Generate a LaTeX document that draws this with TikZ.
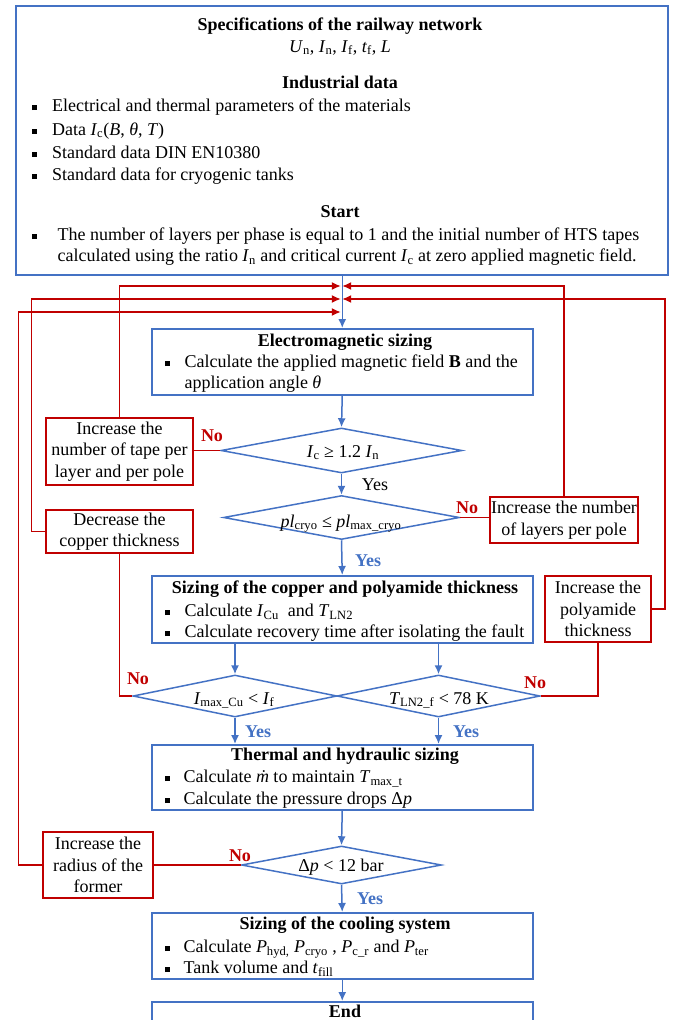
\documentclass[tikz,border=0pt]{standalone}
\usepackage{fontspec}
\setmainfont{Liberation Serif}
\usepackage{tikz}
\usetikzlibrary{shapes.geometric, arrows.meta}

\definecolor{flowblue}{RGB}{68,114,196}
\definecolor{flowred}{RGB}{192,0,0}

\newcommand{\flowfont}{\fontsize{18}{21.5}\selectfont}
\newcommand{\sqbul}[1]{\makebox[#1][l]{\rule[1.5pt]{5pt}{5pt}}}
\newcommand{\vsub}[2]{\textit{#1}\textsubscript{#2}}

\begin{document}
\begin{tikzpicture}[x=1pt, y=-1pt, >={Latex[length=9pt, width=8pt]}, font=\flowfont,
    every node/.append style={inner ysep=1pt},
    bluebox/.style={draw=flowblue, line width=1.5pt, rectangle, inner sep=0pt, anchor=north west},
    redbox/.style={draw=flowred, line width=1.5pt, rectangle, inner sep=0pt, align=center},
    decision/.style={draw=flowblue, line width=1.5pt, diamond, inner sep=0pt},
    flowline/.style={->, flowblue, line width=1.5pt},
    backline/.style={flowred, line width=1.5pt},
    yeslabel/.style={anchor=base, text=flowblue, font=\flowfont\bfseries},
    nolabel/.style={anchor=base, text=flowred, font=\flowfont\bfseries}]
    \useasboundingbox (0,0) rectangle (680,1020);
    % Draw input data box
    \node [bluebox, minimum width=652, minimum height=269] (specs) at (15,5) {};
    \node [anchor=base] (spectitle) at (340,30) {\bfseries Specifications of the railway network};
    \node [anchor=base] (specvars) at (340,52) {\vsub{U}{n}, \vsub{I}{n}, \vsub{I}{f}, \vsub{t}{f}, \textit{L}};
    \node [anchor=base] (indtitle) at (340,88.5) {\bfseries Industrial data};
    \node [anchor=base west] (ind1) at (28,111.5) {\sqbul{20.5pt}Electrical and thermal parameters of the materials};
    \node [anchor=base west] (ind2) at (28,135) {\sqbul{20.5pt}Data \vsub{I}{c}(\textit{B}, \textit{θ}, \textit{T})};
    \node [anchor=base west] (ind3) at (28,158) {\sqbul{20.5pt}Standard data DIN EN10380};
    \node [anchor=base west] (ind4) at (28,180.5) {\sqbul{20.5pt}Standard data for cryogenic tanks};
    \node [anchor=base] (starttitle) at (340,217.5) {\bfseries Start};
    \node [anchor=base west] (start1) at (28,240.5) {\sqbul{26pt}The number of layers per phase is equal to 1 and the initial number of HTS tapes};
    \node [anchor=base west] (start2) at (54,261.5) {calculated using the ratio \vsub{I}{n} and critical current \vsub{I}{c} at zero applied magnetic field.};
    % Draw sizing boxes
    \node [bluebox, minimum width=381, minimum height=66] (em) at (151,328) {};
    \node [anchor=base] (emtitle) at (345,346) {\bfseries Electromagnetic sizing};
    \node [anchor=base west] (em1) at (161,367.5) {\sqbul{20pt}Calculate the applied magnetic field \textbf{B} and the};
    \node [anchor=base west] (em2) at (181,388.5) {application angle \textit{θ}};
    \node [bluebox, minimum width=381, minimum height=67] (sizing) at (151,575) {};
    \node [anchor=base] (sizetitle) at (345,593.5) {\bfseries Sizing of the copper and polyamide thickness};
    \node [anchor=base west] (size1) at (161,616.5) {\sqbul{20pt}Calculate \vsub{I}{Cu} \ and \vsub{T}{LN2}};
    \node [anchor=base west] (size2) at (161,637.5) {\sqbul{20pt}Calculate recovery time after isolating the fault};
    \node [bluebox, minimum width=381, minimum height=65] (thermal) at (151,744) {};
    \node [anchor=base] (thermtitle) at (345,760.5) {\bfseries Thermal and hydraulic sizing};
    \node [anchor=base west] (therm1) at (161,782.5) {\sqbul{19pt}Calculate \textit{ṁ} to maintain \vsub{T}{max\_t}};
    \node [anchor=base west] (therm2) at (161,804.5) {\sqbul{19pt}Calculate the pressure drops Δ\textit{p}};
    \node [bluebox, minimum width=381, minimum height=66] (cooling) at (151,912) {};
    \node [anchor=base] (cooltitle) at (345,929.5) {\bfseries Sizing of the cooling system};
    \node [anchor=base west] (cool1) at (161,952.5) {\sqbul{19pt}Calculate \vsub{P}{hyd,} \vsub{P}{cryo} , \vsub{P}{c\_r} and \vsub{P}{ter}};
    \node [anchor=base west] (cool2) at (161,973.5) {\sqbul{19pt}Tank volume and \vsub{t}{fill}};
    \node [bluebox, minimum width=381, minimum height=40] (endbox) at (151,1001) {};
    \node [anchor=base] (endtitle) at (345,1017.5) {\bfseries End};
    % Draw decisions
    \node [decision, minimum width=241, minimum height=45] (dcrit) at (341.5,450.5) {};
    \node [anchor=base] (dcrittext) at (343,457) {\vsub{I}{c} ≥ 1.2 \vsub{I}{n}};
    \node [decision, minimum width=236, minimum height=44] (dcryo) at (341.5,517.5) {};
    \node [anchor=base] (dcryotext) at (341,527) {\textit{pl}\textsubscript{cryo} ≤ \textit{pl}\textsubscript{max\_cryo}};
    \node [decision, minimum width=204, minimum height=42] (dcu) at (235,696) {};
    \node [anchor=base] (dcutext) at (234,704) {\vsub{I}{max\_Cu} < \vsub{I}{f}};
    \node [decision, minimum width=203, minimum height=42] (dln) at (438.5,696) {};
    \node [anchor=base] (dlntext) at (439,704) {\vsub{T}{LN2\_f} < 78 K};
    \node [decision, minimum width=200, minimum height=38] (dpress) at (341.5,865) {};
    \node [anchor=base] (dpresstext) at (341,871.5) {Δ\textit{p} < 12 bar};
    % Draw correction boxes
    \node [redbox, minimum width=147, minimum height=67] (tape) at (119.5,451.5) {Increase the\\number of tape per\\layer and per pole};
    \node [redbox, minimum width=147, minimum height=43] (copper) at (119.5,531.5) {Decrease the\\copper thickness};
    \node [redbox, minimum width=148, minimum height=46] (layers) at (564,520) {Increase the number\\of layers per pole};
    \node [redbox, minimum width=106, minimum height=66] (poly) at (598,609) {Increase the\\polyamide\\thickness};
    \node [redbox, minimum width=110, minimum height=66] (radius) at (98,865) {Increase the\\radius of the\\former};
    % Return points on the main line
    \coordinate (tapein) at (340.8,286);
    \coordinate (layin) at (342.2,286);
    \coordinate (copin) at (340.8,299);
    \coordinate (polyin) at (342.2,299);
    \coordinate (radin) at (340.8,312);
    % Draw main flow
    \draw [flowline] (em.north |- specs.south) -- (em.north);
    \draw [flowline] (em.south) -- (dcrit.north);
    \draw [flowline] (dcrit.south) -- (dcryo.north);
    \draw [flowline] (dcryo.south) -- (sizing.north);
    \draw [flowline] (dcu.north |- sizing.south) -- (dcu.north);
    \draw [flowline] (dln.north |- sizing.south) -- (dln.north);
    \draw [flowline] (dcu.south) -- (dcu.south |- thermal.north);
    \draw [flowline] (dln.south) -- (dln.south |- thermal.north);
    \draw [flowline] (thermal.south) -- (dpress.north);
    \draw [flowline] (dpress.south) -- (cooling.north);
    \draw [flowline] (cooling.south) -- (endbox.north);
    % Draw feedback loops
    \draw [backline] (dcrit.west) -- (dcrit.west -| tape.east);
    \draw [backline] (dcryo.east) -- (dcryo.east -| layers.west);
    \draw [backline] (dpress.west) -- (dpress.west -| radius.east);
    \draw [backline] (copper.south) |- (dcu.west);
    \draw [backline] (poly.south) |- (dln.east);
    \draw [backline, ->] (tape.north) |- (tapein);
    \draw [backline, ->] (layers.north) |- (layin);
    \draw [backline, ->] (copper.west) -- ++(-14,0) |- (copin);
    \draw [backline, ->] (poly.east) -- ++(13,0) |- (polyin);
    \draw [backline, ->] (radius.west) -- ++(-24,0) |- (radin);
    % Draw yes / no labels
    \node [nolabel] (no1) at (212,441) {No};
    \node [nolabel] (no2) at (467,513) {No};
    \node [nolabel] (no3) at (138,684) {No};
    \node [nolabel] (no4) at (535,688) {No};
    \node [nolabel] (no5) at (240,861) {No};
    \node [anchor=base] (yes1) at (375,490) {Yes};
    \node [yeslabel] (yes2) at (368,566) {Yes};
    \node [yeslabel] (yes3) at (258,737) {Yes};
    \node [yeslabel] (yes4) at (466,737) {Yes};
    \node [yeslabel] (yes5) at (370,904) {Yes};
\end{tikzpicture}
\end{document}
